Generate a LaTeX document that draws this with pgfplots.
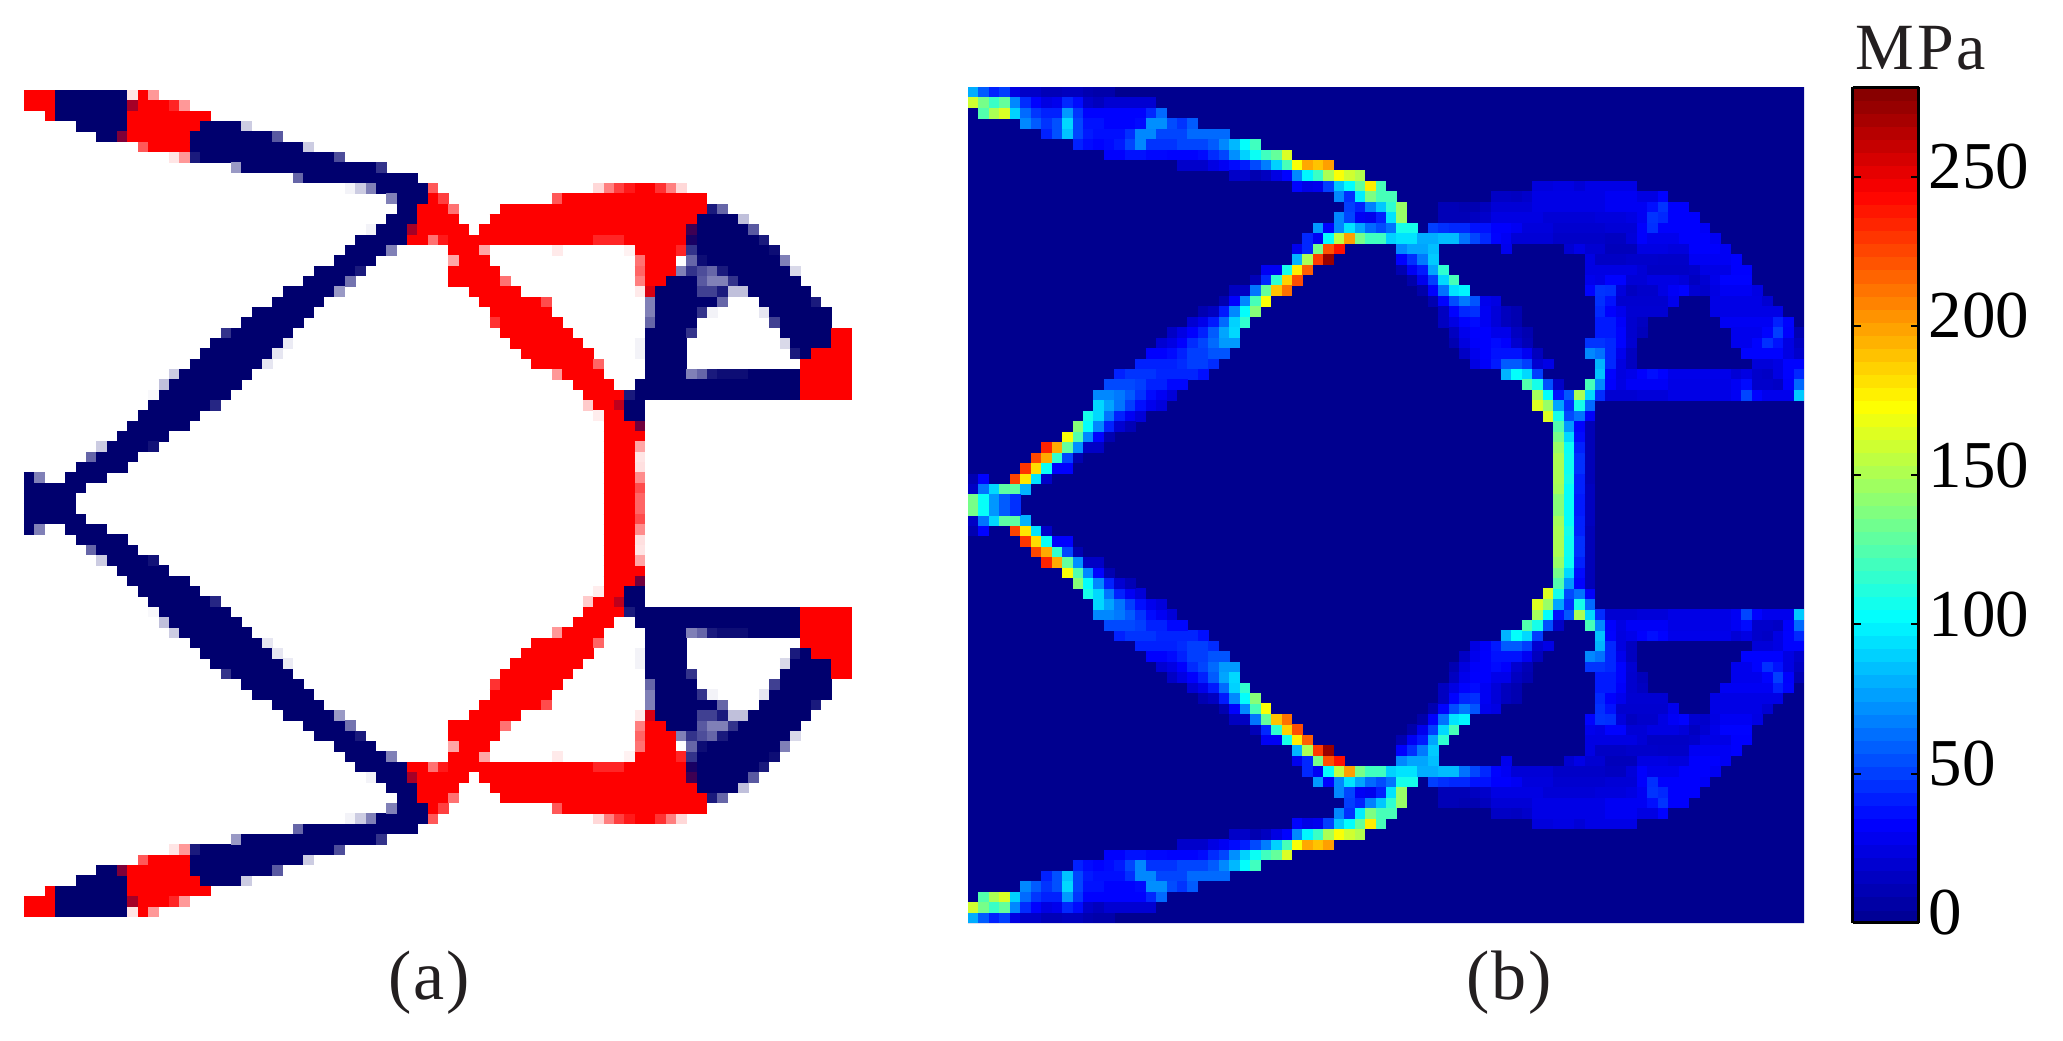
\documentclass[border=0pt]{standalone}
\usepackage{fontspec}
\setmainfont{Liberation Serif}
\usepackage{pgfplots}
\usepackage{pgfplotstable}
\pgfplotsset{compat=1.18}
\definecolor{jetbg}{RGB}{0,0,143}
\definecolor{txtgrey}{RGB}{35,31,32}

% element runs of the upper half (rows 0-39 from the top): row, first column, length, value
% panel (a): 0 navy, 1 white, 2 red, 3 navy again for the mixed dark cells
\pgfplotstableread[row sep=\\]{
r c n val\\
0 0 3 2\\ 0 3 7 0\\ 0 10 1 1.1\\ 0 11 1 2\\ 0 12 1 1.4\\
1 0 3 2\\ 1 3 7 0\\ 1 10 1 2.35\\ 1 11 3 2\\ 1 14 1 1.85\\ 1 15 1 1.4\\
2 2 1 2\\ 2 3 7 0\\ 2 10 8 2\\
3 5 5 0\\ 3 10 7 2\\ 3 17 4 0\\ 3 21 1 .8\\
4 7 2 0\\ 4 9 1 2.5\\ 4 10 6 2\\ 4 16 8 0\\ 4 24 1 .35\\
5 11 1 1.65\\ 5 12 4 2\\ 5 16 11 0\\ 5 27 1 .8\\
6 14 1 1.1\\ 6 15 1 1.4\\ 6 16 1 .1\\ 6 17 13 0\\ 6 30 1 .3\\
7 20 1 .6\\ 7 21 13 0\\ 7 34 1 .2\\
8 26 1 .4\\ 8 27 11 0\\
9 31 1 .95\\ 9 32 1 .8\\ 9 33 1 .5\\ 9 34 5 0\\ 9 39 1 1.65\\ 9 55 1 1.15\\ 9 56 1 1.5\\ 9 57 1 1.75\\ 9 58 1 1.9\\ 9 59 2 2\\ 9 61 1 1.8\\ 9 62 1 1.5\\ 9 63 1 1.15\\
10 35 1 .5\\ 10 36 3 0\\ 10 39 1 2\\ 10 40 1 1.75\\ 10 51 1 1.65\\ 10 52 14 2\\
11 36 2 0\\ 11 38 3 2\\ 11 41 1 1.55\\ 11 46 20 2\\ 11 66 1 .1\\ 11 67 1 .4\\
12 35 3 0\\ 12 38 4 2\\ 12 45 20 2\\ 12 65 4 0\\ 12 69 1 .75\\
13 33 1 .95\\ 13 34 3 0\\ 13 37 1 2.35\\ 13 38 5 2\\ 13 44 20 2\\ 13 64 1 2.75\\ 13 65 5 0\\ 13 70 1 .35\\
14 32 5 0\\ 14 37 2 2\\ 14 39 1 1.55\\ 14 40 1 1.9\\ 14 41 14 2\\ 14 55 3 1.85\\ 14 58 6 2\\ 14 64 1 2.9\\ 14 65 6 0\\ 14 71 1 .1\\
15 31 4 0\\ 15 35 1 .5\\ 15 41 3 2\\ 15 44 1 1.35\\ 15 51 1 1.08\\ 15 58 1 1.05\\ 15 59 4 2\\ 15 63 1 1.85\\ 15 64 1 .2\\ 15 65 7 0\\ 15 72 1 .05\\
16 30 4 0\\ 16 41 1 1.35\\ 16 42 3 2\\ 16 59 1 1.55\\ 16 60 3 2\\ 16 64 1 .4\\ 16 65 1 .05\\ 16 66 7 0\\ 16 73 1 .5\\
17 28 4 0\\ 17 32 1 .1\\ 17 41 5 2\\ 17 59 1 1.6\\ 17 60 3 2\\ 17 63 1 .5\\ 17 64 1 .2\\ 17 65 1 .3\\ 17 66 1 .4\\ 17 67 1 .1\\ 17 68 6 0\\ 17 74 1 .85\\
18 27 4 0\\ 18 31 1 .45\\ 18 41 5 2\\ 18 46 1 1.55\\ 18 59 1 1.5\\ 18 60 2 2\\ 18 62 3 0\\ 18 65 1 .35\\ 18 66 2 .5\\ 18 68 1 .2\\ 18 69 6 0\\
19 25 5 0\\ 19 30 1 .6\\ 19 43 5 2\\ 19 59 1 1.08\\ 19 60 1 2.15\\ 19 61 4 0\\ 19 65 2 .25\\ 19 67 1 .1\\ 19 68 2 .75\\ 19 70 6 0\\
20 24 5 0\\ 20 44 6 2\\ 20 50 1 1.7\\ 20 60 1 .5\\ 20 61 6 0\\ 20 67 1 .4\\ 20 71 5 0\\ 20 76 1 .1\\
21 22 6 0\\ 21 45 6 2\\ 21 60 1 .5\\ 21 61 4 0\\ 21 65 1 .2\\ 21 66 1 .95\\ 21 71 1 .9\\ 21 72 6 0\\
22 21 6 0\\ 22 45 1 1.8\\ 22 46 6 2\\ 22 60 1 .4\\ 22 61 4 0\\ 22 72 1 .25\\ 22 73 5 0\\
23 19 1 .2\\ 23 20 6 0\\ 23 46 7 2\\ 23 60 4 0\\ 23 64 1 .2\\ 23 73 5 0\\ 23 78 2 2\\
24 18 7 0\\ 24 25 1 .92\\ 24 47 7 2\\ 24 59 1 .95\\ 24 60 4 0\\ 24 73 1 .85\\ 24 74 4 0\\ 24 78 2 2\\
25 17 7 0\\ 25 24 1 .9\\ 25 48 7 2\\ 25 59 1 .95\\ 25 60 4 0\\ 25 74 1 .1\\ 25 75 1 0\\ 25 76 4 2\\
26 16 7 0\\ 26 23 1 .9\\ 26 49 6 2\\ 26 55 1 1.6\\ 26 60 4 0\\ 26 75 5 2\\
27 14 1 .8\\ 27 15 7 0\\ 27 51 1 1.4\\ 27 52 4 2\\ 27 60 4 0\\ 27 64 1 .5\\ 27 65 1 .4\\ 27 66 1 .1\\ 27 67 3 .05\\ 27 70 5 0\\ 27 75 5 2\\
28 13 1 .75\\ 28 14 7 0\\ 28 53 4 2\\ 28 59 16 0\\ 28 75 5 2\\
29 12 1 .97\\ 29 13 7 0\\ 29 54 4 2\\ 29 58 1 .1\\ 29 59 16 0\\ 29 75 5 2\\
30 12 6 0\\ 30 18 1 .15\\ 30 54 1 1.2\\ 30 55 2 2\\ 30 57 1 2.25\\ 30 58 2 0\\
31 11 6 0\\ 31 55 1 1.07\\ 31 56 2 2\\ 31 58 2 0\\
32 10 6 0\\ 32 56 3 2\\ 32 59 1 2.55\\
33 9 5 0\\ 33 56 4 2\\
34 7 1 .8\\ 34 8 4 0\\ 34 12 1 .07\\ 34 56 3 2\\ 34 59 1 1.35\\
35 6 1 .4\\ 35 7 4 0\\ 35 56 3 2\\ 35 59 1 1.1\\
36 5 5 0\\ 36 56 3 2\\ 36 59 1 1.12\\
37 0 1 0\\ 37 1 1 .5\\ 37 4 4 0\\ 37 56 3 2\\ 37 59 1 1.45\\
38 0 6 0\\ 38 56 3 2\\ 38 59 1 1.7\\
39 0 5 0\\ 39 56 3 2\\ 39 59 1 1.6\\
}\aRuns

% panel (b): stress in MPa
\pgfplotstableread[row sep=\\]{
r c n val\\
0 0 1 80\\ 0 1 1 58\\ 0 2 1 42\\ 0 3 1 50\\ 0 4 1 25\\ 0 5 2 17\\ 0 7 2 12\\ 0 9 2 14\\ 0 11 1 10\\ 0 12 2 8\\
1 0 1 160\\ 1 1 1 135\\ 1 2 1 118\\ 1 3 1 130\\ 1 4 1 70\\ 1 5 1 45\\ 1 6 1 34\\ 1 7 1 25\\ 1 8 1 28\\ 1 9 1 44\\ 1 10 1 36\\ 1 11 1 18\\ 1 12 1 14\\ 1 13 5 20\\
2 1 1 125\\ 2 2 1 150\\ 2 3 1 163\\ 2 4 1 90\\ 2 5 1 62\\ 2 6 1 48\\ 2 7 2 42\\ 2 9 1 75\\ 2 10 1 48\\ 2 11 6 34\\ 2 17 1 44\\ 2 18 1 62\\
3 5 1 70\\ 3 6 1 58\\ 3 7 1 47\\ 3 8 1 55\\ 3 9 1 92\\ 3 10 1 52\\ 3 11 2 38\\ 3 13 3 34\\ 3 16 1 36\\ 3 17 2 72\\ 3 19 1 54\\ 3 20 1 47\\ 3 21 1 58\\
4 7 1 42\\ 4 8 1 55\\ 4 9 1 86\\ 4 10 1 52\\ 4 11 1 40\\ 4 12 3 37\\ 4 15 1 46\\ 4 16 2 70\\ 4 18 3 52\\ 4 21 4 62\\
5 10 1 42\\ 5 11 1 36\\ 5 12 1 34\\ 5 13 1 36\\ 5 14 1 40\\ 5 15 1 52\\ 5 16 1 70\\ 5 17 3 47\\ 5 20 3 52\\ 5 23 1 58\\ 5 24 1 70\\ 5 25 1 83\\ 5 26 1 103\\ 5 27 1 120\\
6 13 2 33\\ 6 15 2 38\\ 6 17 2 35\\ 6 19 3 34\\ 6 22 1 36\\ 6 23 1 45\\ 6 24 1 52\\ 6 25 1 72\\ 6 26 1 90\\ 6 27 1 105\\ 6 28 1 120\\ 6 29 1 130\\ 6 30 1 163\\
7 20 3 18\\ 7 23 1 25\\ 7 24 1 30\\ 7 25 1 36\\ 7 26 1 41\\ 7 27 1 53\\ 7 28 1 67\\ 7 29 1 90\\ 7 30 1 122\\ 7 31 1 172\\ 7 32 1 198\\ 7 33 1 190\\ 7 34 1 200\\
8 25 2 17\\ 8 27 1 10\\ 8 28 1 15\\ 8 29 1 25\\ 8 30 1 34\\ 8 31 1 70\\ 8 32 1 100\\ 8 33 1 118\\ 8 34 1 150\\ 8 35 1 172\\ 8 36 1 160\\ 8 37 1 152\\
9 31 1 34\\ 9 32 1 26\\ 9 33 1 28\\ 9 34 1 50\\ 9 35 1 87\\ 9 36 1 103\\ 9 37 1 130\\ 9 38 1 178\\ 9 39 1 122\\ 9 54 2 23\\ 9 56 2 25\\ 9 58 1 21\\ 9 59 5 26\\
10 35 1 70\\ 10 36 1 46\\ 10 37 1 98\\ 10 38 1 137\\ 10 39 2 122\\ 10 50 2 16\\ 10 52 1 15\\ 10 53 1 18\\ 10 54 7 26\\ 10 61 3 30\\ 10 64 2 25\\ 10 66 1 34\\
11 36 1 50\\ 11 37 1 42\\ 11 38 1 68\\ 11 39 1 87\\ 11 40 1 115\\ 11 41 1 145\\ 11 45 2 12\\ 11 47 2 10\\ 11 49 1 14\\ 11 50 4 21\\ 11 54 7 26\\ 11 61 4 30\\ 11 65 1 37\\ 11 66 1 47\\ 11 67 2 33\\
12 35 1 70\\ 12 36 1 52\\ 12 37 1 30\\ 12 38 1 28\\ 12 39 1 42\\ 12 40 1 95\\ 12 41 1 145\\ 12 45 3 12\\ 12 48 1 15\\ 12 49 1 18\\ 12 50 5 25\\ 12 55 5 21\\ 12 60 3 23\\ 12 63 1 25\\ 12 64 1 30\\ 12 65 1 47\\ 12 66 1 44\\ 12 67 3 33\\
13 33 1 75\\ 13 34 1 33\\ 13 35 1 70\\ 13 36 1 95\\ 13 37 1 78\\ 13 38 1 62\\ 13 39 1 54\\ 13 40 1 64\\ 13 41 2 108\\ 13 44 1 50\\ 13 45 1 46\\ 13 46 2 44\\ 13 48 2 38\\ 13 50 2 33\\ 13 52 1 30\\ 13 53 3 23\\ 13 56 5 19\\ 13 61 3 21\\ 13 64 1 33\\ 13 65 1 46\\ 13 66 4 33\\ 13 70 1 31\\
14 32 1 44\\ 14 33 1 30\\ 14 34 1 103\\ 14 35 1 155\\ 14 36 1 200\\ 14 37 1 135\\ 14 38 2 120\\ 14 40 1 90\\ 14 41 2 95\\ 14 43 2 80\\ 14 45 2 84\\ 14 47 1 64\\ 14 48 1 52\\ 14 49 1 44\\ 14 50 1 34\\ 14 51 1 30\\ 14 52 4 21\\ 14 56 5 17\\ 14 61 2 15\\ 14 63 1 22\\ 14 64 1 33\\ 14 65 3 28\\ 14 68 3 33\\ 14 71 1 30\\
15 31 1 28\\ 15 32 1 44\\ 15 33 1 135\\ 15 34 1 222\\ 15 35 1 240\\ 15 41 1 70\\ 15 42 2 78\\ 15 44 1 85\\ 15 51 1 28\\ 15 57 1 20\\ 15 58 1 26\\ 15 59 2 20\\ 15 61 3 13\\ 15 64 3 25\\ 15 67 2 23\\ 15 69 3 33\\ 15 72 1 30\\
16 31 1 82\\ 16 32 1 150\\ 16 33 1 228\\ 16 34 1 273\\ 16 41 1 33\\ 16 42 1 46\\ 16 43 1 66\\ 16 44 1 88\\ 16 59 1 25\\ 16 60 3 16\\ 16 63 3 18\\ 16 66 3 17\\ 16 69 4 30\\ 16 73 1 33\\
17 28 2 30\\ 17 30 1 108\\ 17 31 1 178\\ 17 32 1 218\\ 17 41 1 10\\ 17 42 1 30\\ 17 43 1 40\\ 17 44 1 78\\ 17 45 1 115\\ 17 59 5 25\\ 17 64 1 21\\ 17 65 4 16\\ 17 69 1 18\\ 17 70 3 26\\ 17 73 2 33\\
18 27 1 12\\ 18 28 1 44\\ 18 29 1 115\\ 18 30 1 186\\ 18 31 1 223\\ 18 42 1 8\\ 18 43 1 28\\ 18 44 1 50\\ 18 45 1 92\\ 18 46 1 122\\ 18 59 1 28\\ 18 60 1 26\\ 18 61 2 34\\ 18 63 2 21\\ 18 65 3 25\\ 18 68 1 22\\ 18 69 1 15\\ 18 70 1 20\\ 18 71 1 27\\ 18 72 3 34\\
19 25 2 15\\ 19 27 1 65\\ 19 28 1 130\\ 19 29 1 190\\ 19 30 1 213\\ 19 43 1 8\\ 19 44 1 33\\ 19 45 1 64\\ 19 46 1 95\\ 19 47 1 100\\ 19 59 1 34\\ 19 60 1 47\\ 19 61 1 46\\ 19 62 1 23\\ 19 63 1 15\\ 19 64 2 18\\ 19 66 1 25\\ 19 67 1 31\\ 19 68 1 34\\ 19 69 1 20\\ 19 70 1 18\\ 19 71 1 25\\ 19 72 3 30\\ 19 75 1 25\\
20 24 1 10\\ 20 25 1 33\\ 20 26 1 70\\ 20 27 1 122\\ 20 28 1 172\\ 20 44 1 10\\ 20 45 1 34\\ 20 46 1 54\\ 20 47 1 66\\ 20 48 1 56\\ 20 49 1 28\\ 20 50 1 25\\ 20 60 1 46\\ 20 61 1 38\\ 20 62 5 19\\ 20 67 1 28\\ 20 71 5 26\\ 20 76 1 20\\
21 22 1 10\\ 21 23 1 15\\ 21 24 1 40\\ 21 25 1 70\\ 21 26 1 103\\ 21 27 1 140\\ 21 45 1 15\\ 21 46 1 34\\ 21 47 1 44\\ 21 48 1 46\\ 21 49 1 30\\ 21 50 1 22\\ 21 51 1 14\\ 21 52 1 10\\ 21 60 1 44\\ 21 61 1 33\\ 21 62 1 28\\ 21 63 4 20\\ 21 71 7 26\\
22 21 1 20\\ 22 22 1 27\\ 22 23 1 40\\ 22 24 1 62\\ 22 25 1 90\\ 22 26 1 116\\ 22 45 1 15\\ 22 46 1 25\\ 22 47 1 34\\ 22 48 1 36\\ 22 49 1 30\\ 22 50 1 22\\ 22 51 1 14\\ 22 52 1 10\\ 22 60 2 40\\ 22 62 1 32\\ 22 63 1 19\\ 22 64 1 15\\ 22 72 5 30\\ 22 77 1 42\\ 22 78 1 34\\
23 19 1 16\\ 23 20 1 25\\ 23 21 1 33\\ 23 22 1 42\\ 23 23 1 58\\ 23 24 1 78\\ 23 25 1 92\\ 23 46 1 15\\ 23 47 1 28\\ 23 48 2 33\\ 23 50 2 27\\ 23 52 1 15\\ 23 53 1 10\\ 23 60 2 40\\ 23 62 1 34\\ 23 63 1 19\\ 23 64 1 13\\ 23 73 3 28\\ 23 76 1 34\\ 23 77 1 50\\ 23 78 1 33\\ 23 79 1 10\\
24 18 1 20\\ 24 19 1 25\\ 24 20 1 33\\ 24 21 1 45\\ 24 22 1 52\\ 24 23 1 62\\ 24 24 2 75\\ 24 46 1 10\\ 24 47 1 24\\ 24 48 1 32\\ 24 49 1 33\\ 24 50 1 36\\ 24 51 1 33\\ 24 52 1 19\\ 24 53 1 12\\ 24 59 2 47\\ 24 61 1 44\\ 24 62 1 34\\ 24 63 1 20\\ 24 73 2 28\\ 24 75 1 34\\ 24 76 1 46\\ 24 77 1 38\\ 24 78 1 25\\ 24 79 1 15\\
25 17 2 33\\ 25 19 1 36\\ 25 20 1 42\\ 25 21 2 50\\ 25 23 2 56\\ 25 47 1 16\\ 25 48 1 28\\ 25 49 1 33\\ 25 50 3 38\\ 25 53 1 30\\ 25 54 1 14\\ 25 59 1 70\\ 25 60 1 64\\ 25 61 1 44\\ 25 62 1 28\\ 25 63 1 15\\ 25 74 4 34\\ 25 78 1 25\\ 25 79 1 18\\
26 16 4 42\\ 26 20 1 45\\ 26 21 2 50\\ 26 23 1 45\\ 26 48 1 25\\ 26 49 1 32\\ 26 50 1 40\\ 26 51 2 58\\ 26 53 1 50\\ 26 54 1 20\\ 26 55 1 26\\ 26 60 1 82\\ 26 61 1 44\\ 26 62 1 24\\ 26 63 1 15\\ 26 75 2 22\\ 26 77 1 25\\ 26 78 2 34\\
27 14 1 42\\ 27 15 3 47\\ 27 18 4 43\\ 27 22 1 37\\ 27 51 1 82\\ 27 52 1 103\\ 27 53 1 92\\ 27 54 1 50\\ 27 60 1 86\\ 27 61 1 34\\ 27 62 1 24\\ 27 63 1 27\\ 27 64 1 33\\ 27 65 1 37\\ 27 66 1 34\\ 27 67 6 27\\ 27 73 1 21\\ 27 74 1 25\\ 27 75 1 18\\ 27 76 1 16\\ 27 77 1 25\\ 27 78 1 34\\ 27 79 1 44\\
28 13 3 53\\ 28 16 1 50\\ 28 17 2 42\\ 28 19 2 35\\ 28 53 1 125\\ 28 54 1 108\\ 28 55 1 55\\ 28 56 1 17\\ 28 59 1 122\\ 28 60 1 70\\ 28 61 1 33\\ 28 62 1 25\\ 28 63 4 31\\ 28 67 6 26\\ 28 73 1 30\\ 28 74 1 36\\ 28 75 2 18\\ 28 77 1 16\\ 28 78 1 33\\ 28 79 1 62\\
29 12 2 70\\ 29 14 1 66\\ 29 15 1 58\\ 29 16 1 47\\ 29 17 1 36\\ 29 18 1 30\\ 29 19 1 22\\ 29 54 1 148\\ 29 55 1 103\\ 29 56 1 38\\ 29 57 1 57\\ 29 58 1 150\\ 29 59 1 92\\ 29 60 1 45\\ 29 61 3 20\\ 29 64 3 22\\ 29 67 6 26\\ 29 73 1 30\\ 29 74 1 52\\ 29 75 1 34\\ 29 76 3 28\\ 29 79 1 88\\
30 12 1 92\\ 30 13 1 78\\ 30 14 1 65\\ 30 15 1 50\\ 30 16 1 37\\ 30 17 1 28\\ 30 18 1 23\\ 30 54 1 164\\ 30 55 1 145\\ 30 56 1 78\\ 30 57 1 46\\ 30 58 1 108\\ 30 59 1 62\\
31 11 1 108\\ 31 12 1 92\\ 31 13 1 65\\ 31 14 1 42\\ 31 15 1 30\\ 31 16 1 22\\ 31 55 1 164\\ 31 56 1 108\\ 31 57 1 53\\ 31 58 1 64\\ 31 59 1 32\\
32 10 1 140\\ 32 11 1 103\\ 32 12 1 70\\ 32 13 1 42\\ 32 14 1 20\\ 32 15 1 12\\ 32 56 1 125\\ 32 57 1 75\\ 32 58 1 34\\ 32 59 1 12\\
33 9 1 172\\ 33 10 1 125\\ 33 11 1 70\\ 33 12 1 34\\ 33 13 1 10\\ 33 56 1 135\\ 33 57 1 92\\ 33 58 1 36\\ 33 59 1 12\\
34 7 1 235\\ 34 8 1 197\\ 34 9 1 130\\ 34 10 1 72\\ 34 11 2 16\\ 34 56 1 145\\ 34 57 1 105\\ 34 58 1 42\\ 34 59 1 12\\
35 6 1 225\\ 35 7 1 197\\ 35 8 1 116\\ 35 9 1 52\\ 35 10 1 10\\ 35 56 1 150\\ 35 57 1 106\\ 35 58 1 46\\ 35 59 1 12\\
36 5 1 230\\ 36 6 1 183\\ 36 7 1 105\\ 36 8 2 33\\ 36 56 1 150\\ 36 57 1 106\\ 36 58 1 46\\ 36 59 1 12\\
37 0 1 10\\ 37 1 1 34\\ 37 4 1 226\\ 37 5 1 180\\ 37 6 1 95\\ 37 7 1 17\\ 37 56 1 150\\ 37 57 1 108\\ 37 58 1 42\\ 37 59 1 12\\
38 0 1 16\\ 38 1 1 65\\ 38 2 1 92\\ 38 3 2 128\\ 38 5 1 82\\ 38 56 1 148\\ 38 57 1 104\\ 38 58 1 42\\ 38 59 1 14\\
39 0 1 135\\ 39 1 1 104\\ 39 2 1 74\\ 39 3 1 58\\ 39 4 1 46\\ 39 56 1 140\\ 39 57 1 104\\ 39 58 1 40\\ 39 59 1 14\\
}\bRuns

\pgfplotsset{
  runs/.style={no markers, line width=#1,
    quiver={u=\thisrow{n}+0.03, v=0, colored=mapped color},
    point meta=\thisrow{val}},
  panel/.style={scale only axis, hide axis, clip=true,
    xmin=0, xmax=80, ymin=0, ymax=80},
}

\begin{document}
\begin{tikzpicture}
\useasboundingbox (0pt,0pt) rectangle (1031.5pt,520pt);

\begin{axis}[panel, at={(12pt,61.5pt)}, anchor=south west,
    width=414pt, height=413.5pt,
    colormap={topo}{rgb255(0cm)=(0,0,110); rgb255(1cm)=(255,255,255); rgb255(2cm)=(255,0,0); rgb255(3cm)=(0,0,110)},
    point meta min=0, point meta max=3]
  \addplot[runs=5.32pt] table[x=c, y expr=79.5-\thisrow{r}] {\aRuns};
  \addplot[runs=5.32pt] table[x=c, y expr=\thisrow{r}+0.5] {\aRuns};
\end{axis}

\begin{axis}[panel, at={(484pt,58.5pt)}, anchor=south west,
    width=418pt, height=418pt,
    colormap={mjet}{rgb255(0cm)=(0,0,143); rgb255(7.5cm)=(0,0,255); rgb255(23cm)=(0,255,255); rgb255(39cm)=(255,255,0); rgb255(55cm)=(255,0,0); rgb255(63cm)=(128,0,0)},
    point meta min=0, point meta max=280,
    colorbar, colorbar sampled,
    colorbar shift/.style={xshift=24.25pt},
    colorbar style={samples=65, width=33pt,
      ytick={0,50,100,150,200,250},
      ytick pos=both, yticklabel pos=right, tick align=inside,
      major tick length=4pt,
      tick style={black, line width=1pt},
      axis line style={line width=1.5pt, black},
      /pgf/number format/assume math mode=true,
      yticklabel style={font=\fontsize{33.5}{33.5}\selectfont, anchor=west, inner sep=0pt, xshift=5pt, yshift=5pt}}]
  \addplot[fill=jetbg, draw=none, forget plot] coordinates {(0,0)(80,0)(80,80)(0,80)} \closedcycle;
  \addplot[runs=5.37pt] table[x=c, y expr=79.5-\thisrow{r}] {\bRuns};
  \addplot[runs=5.37pt] table[x=c, y expr=\thisrow{r}+0.5] {\bRuns};
\end{axis}

\node[anchor=base, text=txtgrey, font=\fontsize{35}{35}\selectfont, inner sep=0pt] at (214.7pt,20.5pt) {(\kern1pt a\kern1pt)};
\node[anchor=base, text=txtgrey, font=\fontsize{35}{35}\selectfont, inner sep=0pt] at (754.5pt,20.5pt) {(\kern1pt b\kern1pt)};
\node[anchor=base, text=txtgrey, font=\fontsize{33}{33}\selectfont, inner sep=0pt] at (960.5pt,485pt) {M\kern1.5pt P\kern1.5pt a};
\end{tikzpicture}
\end{document}
